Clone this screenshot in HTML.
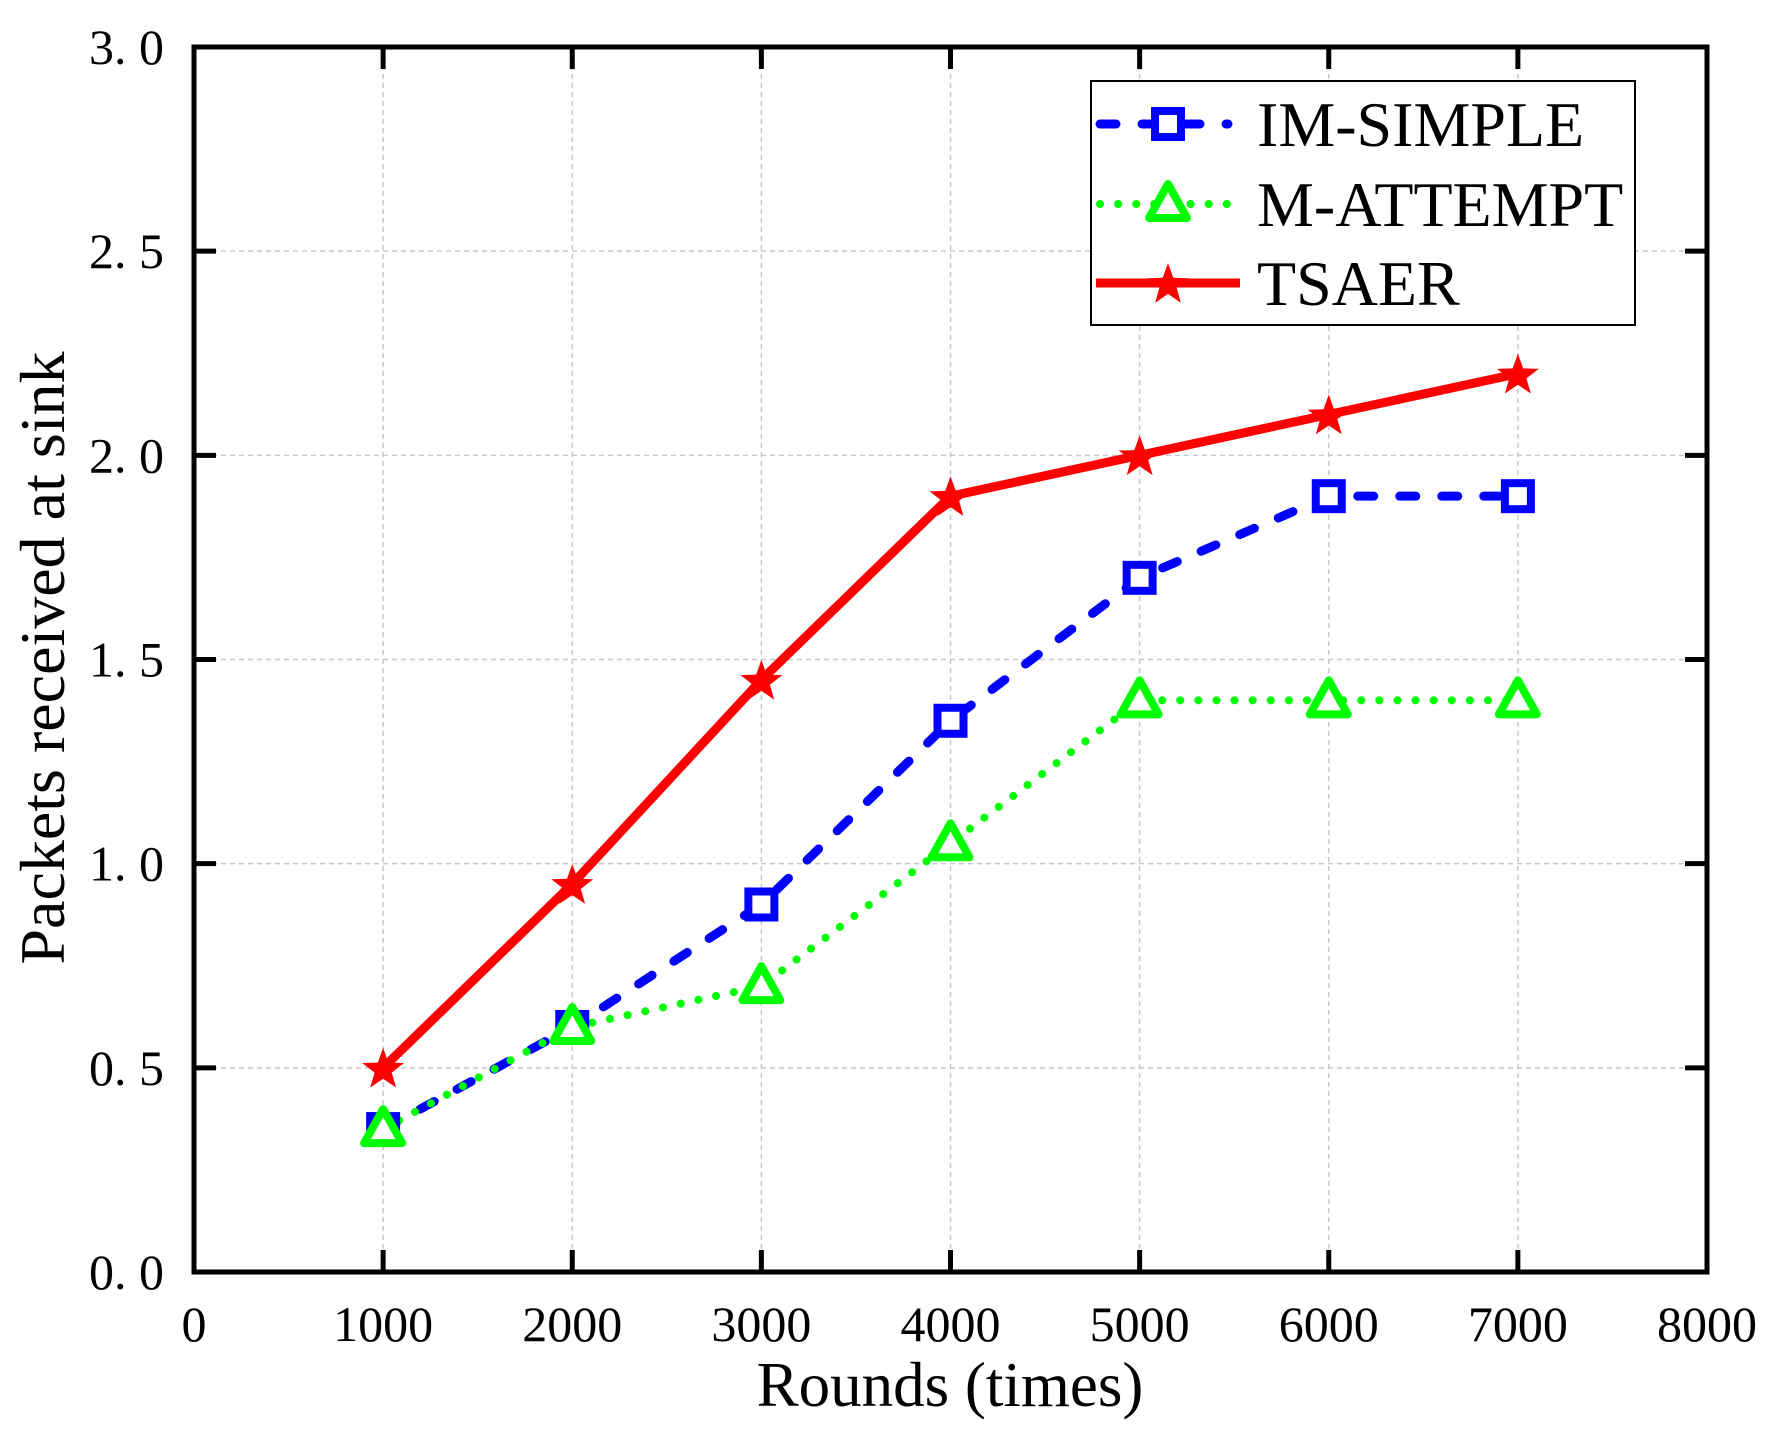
<!DOCTYPE html>
<html><head><meta charset="utf-8"><style>
html,body{margin:0;padding:0;background:#fff;}
svg{display:block;font-family:"Liberation Serif","Noto Serif CJK SC",serif;}
</style></head><body>
<svg id="chart" width="1775" height="1455" viewBox="0 0 1775 1455" xmlns="http://www.w3.org/2000/svg">
<g id="grid"></g>
<g id="series"></g>
<g id="axes"></g>
<text x="950" y="1406" font-size="63" text-anchor="middle">Rounds (times)</text>
<text transform="translate(64,658) rotate(-90)" font-size="64" text-anchor="middle">Packets received at sink</text>
<g id="legend"></g>
</svg>
<script>
const categories = [1000, 2000, 3000, 4000, 5000, 6000, 7000];
const imSimple = [0.35, 0.6, 0.9, 1.35, 1.7, 1.9, 1.9];
const mAttempt = [0.35, 0.6, 0.7, 1.05, 1.4, 1.4, 1.4];
const tsaer = [0.5, 0.95, 1.45, 1.9, 2.0, 2.1, 2.2];
const xTicks = [0, 1000, 2000, 3000, 4000, 5000, 6000, 7000, 8000];
const yTicks = [0, 0.5, 1.0, 1.5, 2.0, 2.5, 3.0];
const yTickLabels = ["0. 0", "0. 5", "1. 0", "1. 5", "2. 0", "2. 5", "3. 0"];
const seriesNames = ["IM-SIMPLE", "M-ATTEMPT", "TSAER"];

const L = 194, R = 1707, T = 47, B = 1272;
const X = v => L + (v - 0) / 8000 * (R - L);
const Y = v => B - (v - 0) / 3 * (B - T);
const NS = "http://www.w3.org/2000/svg";
function mk(tag, attrs, parent) {
  const e = document.createElementNS(NS, tag);
  for (const k in attrs) e.setAttribute(k, attrs[k]);
  parent.appendChild(e);
  return e;
}
const grid = document.getElementById('grid');
const axes = document.getElementById('axes');
const ser = document.getElementById('series');
const leg = document.getElementById('legend');

xTicks.forEach((t, i) => {
  const x = X(t);
  if (t > 0 && t < 8000) {
    const g = mk('line', {x1: x, x2: x, y1: T, y2: B, stroke: '#c8c8c8', 'stroke-width': 1.5, 'stroke-dasharray': '5,4'}, grid);
    
    
    const t1 = mk('line', {x1: x, x2: x, y1: B, y2: B - 22, stroke: '#000', 'stroke-width': 5}, axes);
    
    
    const t2 = mk('line', {x1: x, x2: x, y1: T, y2: T + 22, stroke: '#000', 'stroke-width': 5}, axes);
    
    
  }
  const lb = mk('text', {x: x, y: 1341, 'font-size': 50, 'text-anchor': 'middle'}, axes);
  lb.textContent = String(t);
  
  
});
yTicks.forEach((t, i) => {
  const y = Y(t);
  if (t > 0 && t < 3) {
    const g = mk('line', {x1: L, x2: R, y1: y, y2: y, stroke: '#c8c8c8', 'stroke-width': 1.5, 'stroke-dasharray': '5,4'}, grid);
    
    
    const t1 = mk('line', {x1: L, x2: L + 22, y1: y, y2: y, stroke: '#000', 'stroke-width': 5}, axes);
    
    
    const t2 = mk('line', {x1: R, x2: R - 22, y1: y, y2: y, stroke: '#000', 'stroke-width': 5}, axes);
    
    
  }
  const lb = mk('text', {x: 164, y: y + 17, 'font-size': 50, 'text-anchor': 'end'}, axes);
  lb.textContent = yTickLabels[i];
  
  
});
const frame = mk('rect', {x: L, y: T, width: R - L, height: B - T, fill: 'none', stroke: '#000', 'stroke-width': 5}, axes);



function square(p, x, y, s) {
  const e = mk('rect', {x: x - 13, y: y - 13, width: 26, height: 26, fill: '#fff', stroke: '#0000ff', 'stroke-width': 8}, p);
  
  
}
function tri(p, x, y) {
  const e = mk('polygon', {points: `${x},${y - 20} ${x - 19},${y + 14} ${x + 19},${y + 14}`, fill: '#fff', stroke: '#00ff00', 'stroke-width': 8, 'stroke-linejoin': 'round'}, p);
  
  
}
function star(p, x, y) {
  let pts = [];
  for (let k = 0; k < 10; k++) {
    const r = k % 2 ? 9 : 22, a = -Math.PI / 2 + k * Math.PI / 5;
    pts.push((x + r * Math.cos(a)).toFixed(1) + ',' + (y + 2 + r * Math.sin(a)).toFixed(1));
  }
  const e = mk('polygon', {points: pts.join(' '), fill: '#ff0000'}, p);
  
  
}
function path(vals) { return vals.map((v, i) => (i ? 'L' : 'M') + X(categories[i]) + ',' + Y(v)).join(' '); }

const pIm = mk('path', {d: path(imSimple), fill: 'none', stroke: '#0000ff', 'stroke-width': 9, 'stroke-dasharray': '16,26', 'stroke-linecap': 'round'}, ser);


const pMa = mk('path', {d: path(mAttempt), fill: 'none', stroke: '#00ff00', 'stroke-width': 8, 'stroke-dasharray': '0.1,18', 'stroke-linecap': 'round'}, ser);


const pTs = mk('path', {d: path(tsaer), fill: 'none', stroke: '#ff0000', 'stroke-width': 9, 'stroke-linejoin': 'round'}, ser);


categories.forEach((c, i) => square(ser, X(c), Y(imSimple[i])));
categories.forEach((c, i) => tri(ser, X(c), Y(mAttempt[i])));
categories.forEach((c, i) => star(ser, X(c), Y(tsaer[i])));

const box = mk('rect', {x: 1091, y: 81, width: 544, height: 244, fill: '#fff', stroke: '#000', 'stroke-width': 2}, leg);


const rows = [124, 204, 283];
const l1 = mk('line', {x1: 1100, x2: 1228, y1: rows[0], y2: rows[0], stroke: '#0000ff', 'stroke-width': 9, 'stroke-dasharray': '16,26', 'stroke-linecap': 'round'}, leg);


square(leg, 1168, rows[0]);
const l2 = mk('line', {x1: 1100, x2: 1230, y1: rows[1], y2: rows[1], stroke: '#00ff00', 'stroke-width': 8, 'stroke-dasharray': '0.1,18', 'stroke-linecap': 'round'}, leg);


tri(leg, 1168, rows[1]);
const l3 = mk('line', {x1: 1096, x2: 1240, y1: rows[2], y2: rows[2], stroke: '#ff0000', 'stroke-width': 9}, leg);


star(leg, 1168, rows[2]);
seriesNames.forEach((n, i) => {
  const t = mk('text', {x: 1257, y: rows[i] + 22, 'font-size': 64}, leg);
  t.textContent = n;
  
  
});
</script>
</body></html>
